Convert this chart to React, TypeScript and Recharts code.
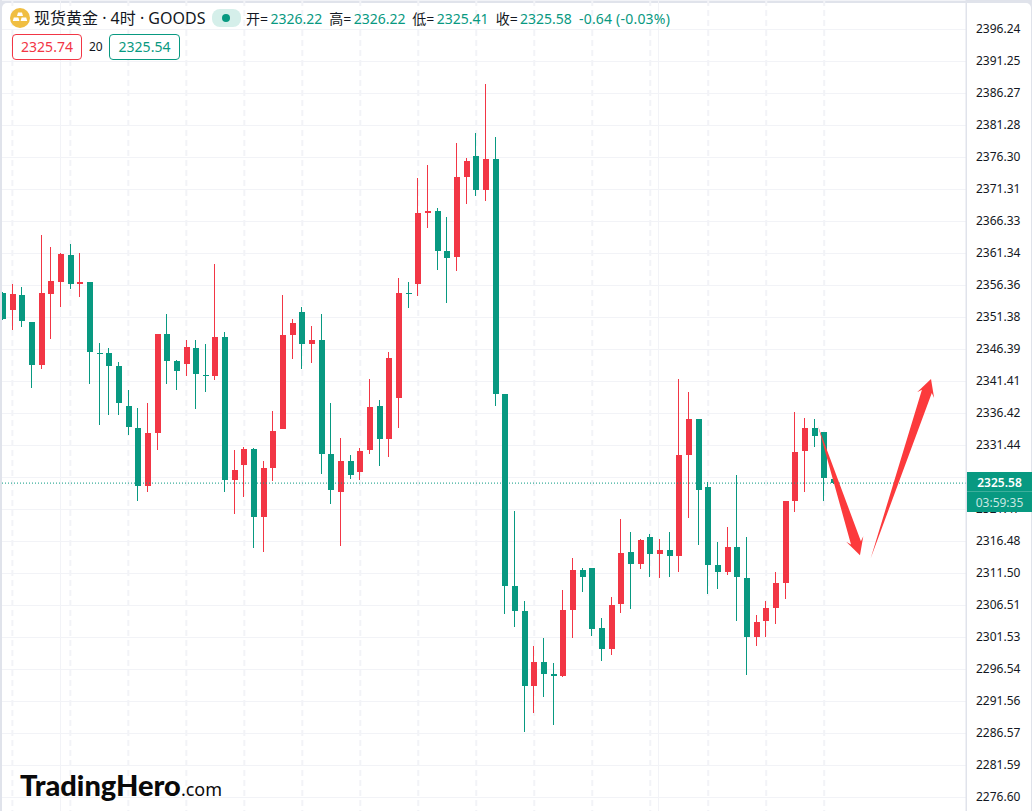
import React from "react";
import { ComposedChart, Bar, XAxis, YAxis, CartesianGrid, ReferenceLine } from "recharts";

const opens = [2355.19,2352.54,2354.88,2350.67,2343.97,2355.03,2356.90,2361.11,2356.59,2356.90,2345.84,2345.84,2343.81,2337.58,2334.16,2325.12,2333.38,2348.80,2344.59,2344.13,2346.62,2342.41,2342.26,2348.33,2326.05,2328.39,2330.88,2320.29,2327.92,2334.00,2348.64,2352.23,2347.24,2347.87,2330.11,2324.19,2329.02,2327.31,2330.74,2337.59,2332.45,2338.83,2355.19,2356.59,2367.65,2367.96,2361.73,2360.80,2373.26,2376.53,2371.24,2376.06,2339.45,2309.55,2305.66,2293.97,2297.71,2295.84,2295.53,2305.81,2312.05,2312.36,2303.01,2299.74,2306.75,2314.85,2312.98,2317.19,2314.54,2315.16,2314.22,2329.96,2335.57,2324.97,2312.82,2311.73,2315.63,2310.80,2301.60,2304.10,2306.12,2310.02,2322.79,2330.58,2334.16,2333.54,2326.22];
const highs = [2355.34,2356.59,2356.12,2350.67,2364.22,2362.35,2361.42,2362.82,2361.42,2356.90,2347.40,2346.62,2344.44,2340.08,2337.27,2338.05,2348.80,2351.92,2344.75,2347.87,2347.87,2347.24,2359.71,2349.11,2330.73,2331.20,2331.04,2329.01,2336.80,2354.88,2351.14,2353.01,2350.05,2351.92,2338.05,2332.61,2329.96,2331.05,2341.80,2338.53,2346.00,2357.53,2356.90,2373.10,2375.13,2368.43,2367.03,2378.56,2376.22,2380.12,2387.75,2379.49,2339.45,2321.24,2307.22,2300.21,2301.45,2297.56,2308.93,2313.91,2312.36,2312.36,2304.57,2307.84,2319.99,2317.96,2316.87,2317.65,2316.87,2317.96,2341.80,2339.77,2335.57,2325.75,2316.40,2318.74,2326.84,2317.18,2305.03,2307.21,2311.73,2322.79,2336.66,2335.72,2335.57,2333.54,2326.22];
const lows = [2350.98,2349.42,2349.89,2340.39,2343.35,2348.02,2353.01,2355.81,2354.56,2341.01,2334.62,2336.18,2336.18,2333.07,2322.78,2324.19,2330.73,2341.01,2340.08,2342.26,2337.12,2339.76,2341.63,2324.19,2320.76,2323.41,2315.46,2314.84,2325.90,2334.00,2344.91,2343.35,2344.28,2326.99,2322.32,2315.78,2326.22,2326.06,2330.11,2328.24,2329.65,2334.16,2352.85,2354.72,2365.32,2358.77,2353.63,2358.62,2369.05,2370.30,2369.52,2337.58,2305.19,2303.17,2286.81,2289.77,2292.26,2287.90,2295.38,2301.45,2308.62,2301.76,2297.87,2298.80,2305.35,2305.97,2312.20,2310.95,2310.80,2310.95,2311.73,2320.14,2315.94,2308.30,2309.08,2311.26,2304.10,2295.68,2300.20,2301.60,2303.63,2307.52,2321.08,2324.19,2331.20,2322.79,2325.41];
const closes = [2351.14,2355.03,2350.83,2343.97,2355.19,2357.06,2361.26,2356.59,2356.90,2346.00,2345.68,2343.81,2338.05,2334.31,2325.12,2333.38,2348.80,2344.59,2343.04,2346.77,2342.57,2342.26,2348.33,2326.05,2327.61,2330.88,2320.29,2327.92,2333.69,2348.64,2350.51,2347.24,2347.87,2330.11,2324.50,2329.02,2326.84,2330.58,2337.44,2332.45,2345.06,2355.19,2355.03,2367.65,2367.96,2361.73,2360.64,2373.26,2375.75,2371.24,2376.06,2339.45,2309.55,2305.66,2293.97,2297.71,2295.84,2295.53,2305.81,2312.05,2310.95,2302.85,2299.74,2306.59,2314.69,2312.98,2316.72,2314.54,2315.16,2314.23,2329.96,2335.57,2324.51,2312.82,2311.73,2315.63,2310.95,2301.60,2303.94,2306.12,2310.02,2322.79,2330.43,2334.16,2332.92,2326.37,2325.58];

const priceTicks = [2396.24,2391.25,2386.27,2381.28,2376.30,2371.31,2366.33,2361.34,2356.36,2351.38,2346.39,2341.41,2336.42,2331.44,2326.45,2321.47,2316.48,2311.50,2306.51,2301.53,2296.54,2291.56,2286.57,2281.59,2276.60];
const dashedGridCandles = [1,7,13,19,25,31,37,43,49,55,61,67,73,79,85];
const separators = [5.98,67.83];
const lastPrice = 2325.58;
const arrowDown = [{ x: 84.36, y: 2334.48 }, { x: 88.7, y: 2314.34 }];
const arrowUp = [{ x: 89.81, y: 2313.87 }, { x: 96.05, y: 2341.8 }];

const UP = "#F23645";
const DOWN = "#089981";
const GRID = "#F2F3F7";
const FRAME = "#E0E3EB";
const ARROW = "#FC3A3C";
const FONT = '"Noto Sans","Noto Sans CJK SC",sans-serif';

const data = opens.map((o, i) => ({ i, o, h: highs[i], l: lows[i], c: closes[i] }));

function Candle(props: any) {
  const { x, y, width, height, payload } = props;
  const { o, h, l, c } = payload;
  const k = height / (h - l);
  const color = c >= o ? UP : DOWN;
  const left = Math.round(x + width / 2 - 3);
  const top = Math.round(y);
  const bottom = Math.round(y + height);
  const bodyTop = Math.round(y + (h - Math.max(o, c)) * k);
  const bodyBottom = Math.max(bodyTop + 1, Math.round(y + (h - Math.min(o, c)) * k));
  return (
    <g shapeRendering="crispEdges">
      <rect x={left + 2} y={top} width={1} height={Math.max(1, bottom - top)} fill={color} />
      <rect x={left} y={bodyTop} width={6} height={bodyBottom - bodyTop} fill={color} />
    </g>
  );
}

function Arrow(props: any) {
  const { x1, y1, x2, y2 } = props;
  const dx = x2 - x1, dy = y2 - y1;
  const len = Math.hypot(dx, dy);
  const ux = dx / len, uy = dy / len, nx = -uy, ny = ux;
  const at = (along: number, off: number) =>
    `${x2 - ux * along + nx * off},${y2 - uy * along + ny * off}`;
  const pts = [
    `${x1},${y1}`,
    at(13, 5.2), at(17, 9), `${x2},${y2}`, at(17, -9), at(13, -5.2),
  ].join(" ");
  return <polygon points={pts} fill={ARROW} />;
}

function PriceTick(props: any) {
  const { x, y, payload } = props;
  return (
    <text x={x} y={Math.floor(y) + 4} fontSize={12} fontFamily={FONT} fill="#131722">
      {Number(payload.value).toFixed(2)}
    </text>
  );
}

const abs = (left: number, top: number, extra: React.CSSProperties = {}): React.CSSProperties => ({
  position: "absolute", left, top, whiteSpace: "nowrap", ...extra,
});

function Header() {
  const label = "#131722";
  const parts: [string, number, string, number][] = [
    ["开=", 246, "2326.22", 270.5],
    ["高=", 329.3, "2326.22", 353.8],
    ["低=", 412.3, "2325.41", 436.8],
    ["收=", 495.7, "2325.58", 520],
  ];
  return (
    <div style={{ fontFamily: FONT }}>
      <svg style={abs(10, 8)} width={20} height={20}>
        <circle cx={10} cy={10} r={10} fill="#F0BE42" />
        <path d="M8 4.5h4l1 3.5H7z M3.8 9.5h4.6l1 3.5H2.8z M11.6 9.5h4.6l1 3.5h-6.6z" fill="#fff" />
      </svg>
      <span style={abs(34, 7, { fontSize: 16, lineHeight: "22px", color: label })}>现货黄金 · 4时 · GOODS</span>
      <div style={abs(212, 9, { width: 29, height: 18, borderRadius: 8, background: "#D5EFEA" })} />
      <div style={abs(222, 14, { width: 8, height: 8, borderRadius: 4, background: DOWN })} />
      {parts.map(([k, kx, v, vx]) => (
        <React.Fragment key={k}>
          <span style={abs(kx, 9, { fontSize: 14, lineHeight: "20px", color: label })}>{k}</span>
          <span style={abs(vx, 9, { fontSize: 14, lineHeight: "20px", color: DOWN })}>{v}</span>
        </React.Fragment>
      ))}
      <span style={abs(579, 9, { fontSize: 14, lineHeight: "20px", color: DOWN, letterSpacing: 0.2 })}>-0.64 (-0.03%)</span>
      <div style={abs(12, 34, { width: 70, height: 26, boxSizing: "border-box", border: `1px solid ${UP}`, borderRadius: 4, color: UP, fontSize: 14, lineHeight: "24px", textAlign: "center", background: "#fff" })}>2325.74</div>
      <span style={abs(89, 37, { fontSize: 12, lineHeight: "20px", color: label })}>20</span>
      <div style={abs(109, 34, { width: 71, height: 26, boxSizing: "border-box", border: `1px solid ${DOWN}`, borderRadius: 4, color: DOWN, fontSize: 14, lineHeight: "24px", textAlign: "center", background: "#fff" })}>2325.54</div>
    </div>
  );
}

export default function App() {
  return (
    <div style={{ position: "absolute", left: 0, top: 0, width: 1032, height: 811, overflow: "hidden", background: FRAME }}>
      <div style={abs(2, 3, { width: 964, height: 808, background: "#fff", borderTopLeftRadius: 5 })} />
      <div style={abs(967, 3, { width: 64, height: 808, background: "#fff", borderTopRightRadius: 5 })} />
      <div style={abs(0, 0)}>
        <ComposedChart
          width={1032}
          height={811}
          data={data}
          margin={{ top: 0, right: 0, bottom: 0, left: 2 }}
          barCategoryGap={0}
        >
          <CartesianGrid vertical={false} stroke={GRID} shapeRendering="crispEdges" />
          <CartesianGrid horizontal={false} verticalValues={dashedGridCandles} stroke={GRID} strokeWidth={2} strokeDasharray="6 4" />
          <CartesianGrid horizontal={false} verticalValues={separators} stroke={GRID} shapeRendering="crispEdges" />
          <XAxis type="number" dataKey="i" domain={[-0.0724, 99.67]} allowDataOverflow hide />
          <YAxis
            orientation="right"
            width={66}
            domain={[2274.5, 2400.836]}
            allowDataOverflow
            ticks={priceTicks}
            interval={0}
            tickLine={false}
            tickSize={0}
            tickMargin={10}
            axisLine={{ stroke: FRAME }}
            tick={<PriceTick />}
          />
          <Bar dataKey={(d: any) => [d.l, d.h]} barSize={6} shape={<Candle />} isAnimationActive={false} />
          <ReferenceLine y={lastPrice} stroke={DOWN} strokeDasharray="1 2" />
          <ReferenceLine segment={arrowDown} shape={<Arrow />} />
          <ReferenceLine segment={arrowUp} shape={<Arrow />} />
        </ComposedChart>
      </div>

      <div style={abs(967, 472, { width: 65, height: 40, background: DOWN, fontFamily: FONT, textAlign: "center" })}>
        <div style={{ height: 20, lineHeight: "22px", fontSize: 12, color: "#fff", fontWeight: 600, borderBottom: "1px solid rgba(255,255,255,0.22)", boxSizing: "border-box" }}>2325.58</div>
        <div style={{ height: 20, lineHeight: "21px", fontSize: 12, color: "rgba(255,255,255,0.78)" }}>03:59:35</div>
      </div>

      <Header />

      <div style={abs(20, 767, { fontFamily: "Lato, sans-serif", color: "#0A0A0A", lineHeight: "36px" })}>
        <span style={{ fontSize: 29, fontWeight: 900 }}>TradingHero</span>
        <span style={{ fontSize: 18, fontFamily: FONT, fontWeight: 400 }}>.com</span>
      </div>
    </div>
  );
}
